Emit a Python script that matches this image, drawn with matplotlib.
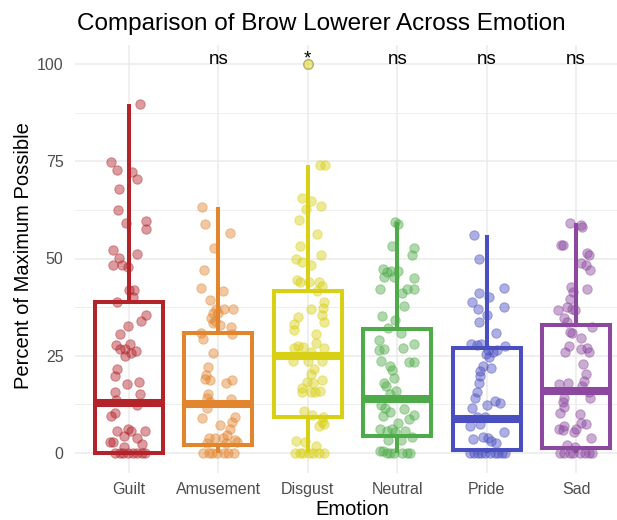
import matplotlib
matplotlib.use("Agg")
import matplotlib.pyplot as plt
from matplotlib.ticker import MultipleLocator

plt.rcParams['font.family'] = ['Liberation Sans', 'DejaVu Sans']

emotions = ["Guilt", "Amusement", "Disgust", "Neutral", "Pride", "Sad"]
colors = ["#B2232A", "#E2852F", "#D8D015", "#4FAB49", "#4A4FBF", "#8B489E"]

# Box statistics: lower whisker, Q1, median, Q3, upper whisker
whisker_lo = [0, 0, 0, 0, 0, 0]
q1 = [0, 2.0, 9.2, 4.4, 0.8, 1.4]
median = [12.9, 12.6, 24.9, 13.8, 8.7, 15.9]
q3 = [38.7, 30.8, 41.7, 32.0, 26.9, 32.9]
whisker_hi = [89.6, 63.3, 74.0, 59.5, 56.0, 59.2]
outliers = [[], [], [100], [], [], []]

# Significance labels vs. Guilt
sig_labels = ["", "ns", "*", "ns", "ns", "ns"]

# Individual observations (percent of maximum possible) with their jitter offsets
guilt = [89.6, 74.9, 72.7, 72.3, 70.4, 67.9, 62.5, 59.6, 59.2, 57.5, 52.2, 50.2, 51.1,
         48.3, 48.3, 47.9, 41.9, 41.9, 40.2, 38.7, 35.5, 33.9, 32.6, 30.5, 27.8, 28.0,
         26.7, 26.7, 25.6, 26.2, 25.0, 21.5, 19.8, 18.3, 17.8, 15.8, 15.1, 13.6, 12.3,
         10.4, 9.6, 5.7, 6.3, 5.7, 5.7, 4.4, 3.8, 2.9, 2.9, 2.3, 1.6,
         0, 0, 0, 0, 0, 0, 0, 0]
guilt_jit = [0.12, -0.20, -0.13, 0.03, 0.09, -0.11, -0.12, 0.19, -0.03, 0.19, -0.18, -0.11, 0.09,
             -0.18, -0.08, -0.01, 0.00, 0.06, 0.04, -0.13, 0.19, 0.13, -0.01, -0.10, -0.15, 0.01,
             -0.10, -0.05, 0.02, 0.08, -0.05, -0.14, -0.16, 0.11, -0.02, -0.16, 0.12, -0.15, 0.09,
             -0.16, -0.20, -0.13, -0.01, 0.02, 0.18, -0.06, 0.09, -0.21, -0.18, 0.15, -0.06,
             -0.16, -0.10, -0.07, -0.01, 0.04, 0.09, 0.15, 0.18]

amusement = [63.3, 58.8, 56.6, 52.8, 47.0, 42.5, 41.6, 39.3, 37.0, 36.9, 37.0, 35.9, 35.9,
             34.6, 34.0, 33.3, 32.9, 32.3, 30.8, 30.5, 29.3, 25.7, 22.2, 20.1, 19.0, 18.8,
             18.1, 18.8, 15.2, 14.1, 13.0, 13.8, 11.7, 8.9, 9.3, 8.0, 7.2, 6.3, 4.6, 3.8,
             3.8, 3.8, 3.3, 2.6, 2.6, 2.9, 0, 0, 0, 0, 0, 0, 0]
amusement_jit = [-0.18, -0.15, 0.13, -0.05, -0.16, -0.20, 0.05, -0.09, -0.03, 0.06, 0.16, -0.06, 0.00,
                 -0.08, -0.04, -0.06, 0.02, 0.14, -0.19, 0.15, -0.17, -0.06, -0.12, -0.14, -0.15, -0.09,
                 0.08, 0.15, -0.12, -0.13, -0.09, 0.14, -0.13, -0.18, 0.18, 0.15, 0.02, 0.13, 0.10, -0.11,
                 -0.04, 0.05, 0.19, -0.13, 0.09, 0.21, -0.17, -0.11, -0.07, -0.02, 0.06, 0.11, 0.17]

disgust = [100, 74.0, 74.0, 65.6, 64.7, 63.6, 62.7, 59.9, 56.3, 53.2, 50.8, 49.8, 49.2, 48.3,
           44.6, 44.0, 44.0, 43.9, 43.0, 41.7, 38.7, 37.4, 37.0, 35.5, 34.9, 33.8, 33.2, 31.6,
           30.6, 28.4, 27.6, 26.9, 27.3, 26.9, 26.0, 23.7, 23.7, 23.7, 21.5, 20.2, 18.8, 18.3,
           18.1, 16.6, 15.8, 15.6, 15.6, 16.0, 10.9, 9.8, 9.3, 7.9, 7.0, 7.4, 3.1, 2.9, 1.8,
           0, 0, 0, 0, 0, 0, 0]
disgust_jit = [0.00, 0.14, 0.19, -0.07, 0.03, 0.15, -0.02, -0.10, 0.10, -0.09, 0.15, -0.13, -0.07, 0.04,
               -0.12, -0.09, 0.01, 0.12, 0.16, 0.10, 0.18, 0.17, 0.03, 0.16, -0.11, 0.18, -0.16, -0.15,
               0.09, 0.09, -0.11, -0.16, -0.05, 0.18, 0.04, -0.17, 0.00, 0.16, 0.07, 0.04, 0.16, -0.01,
               0.06, -0.06, -0.07, 0.04, 0.08, 0.14, -0.04, 0.05, 0.17, 0.16, 0.12, 0.18, -0.13, -0.03, 0.09,
               -0.14, -0.09, -0.05, 0.01, 0.06, 0.12, 0.18]

neutral = [59.5, 58.8, 53.2, 52.8, 50.9, 47.2, 46.6, 46.8, 46.8, 45.2, 45.3, 45.1, 42.1, 42.1,
           42.1, 41.2, 37.8, 35.2, 34.2, 32.1, 30.9, 29.0, 28.0, 27.1, 26.5, 26.7, 23.7, 23.5,
           23.5, 22.4, 21.3, 19.2, 17.9, 17.3, 15.9, 15.1, 12.3, 11.5, 10.5, 9.6, 11.3, 9.8,
           8.7, 7.8, 6.1, 6.1, 5.7, 5.5, 5.7, 4.0, 3.3, 3.3, 0.5, 0.5, 0, 0, 0, 0, 0, 0]
neutral_jit = [-0.03, 0.01, -0.06, 0.19, 0.16, -0.16, -0.11, -0.07, 0.01, -0.15, -0.04, 0.19, -0.19, 0.11,
               0.19, 0.05, 0.07, -0.17, -0.03, -0.10, 0.04, -0.20, 0.19, 0.06, -0.20, -0.15, -0.18, 0.13,
               0.19, -0.08, -0.06, -0.04, -0.15, -0.13, -0.01, -0.08, -0.18, -0.14, -0.08, -0.16, 0.08, 0.19,
               0.13, 0.01, -0.19, -0.06, -0.11, -0.03, 0.09, 0.16, -0.10, 0.04, -0.19, -0.16, -0.12, -0.08,
               -0.04, 0.05, 0.11, 0.14]

pride = [56.0, 50.0, 42.3, 41.2, 40.2, 38.8, 37.5, 36.9, 35.5, 33.6, 30.9, 28.0, 27.8, 28.0,
         27.6, 26.5, 26.0, 26.5, 25.4, 24.8, 22.4, 21.8, 21.2, 19.9, 17.9, 15.8, 14.2, 13.4,
         12.8, 12.3, 11.6, 9.3, 9.3, 7.0, 7.5, 5.3, 3.6, 4.0, 3.8, 3.1, 2.6,
         0, 0, 0, 0, 0, 0, 0, 0, 0, 0]
pride_jit = [-0.14, -0.09, 0.19, -0.09, 0.03, -0.16, 0.19, -0.10, 0.00, -0.09, 0.10, -0.17, -0.11, -0.06,
             0.20, 0.02, 0.07, 0.12, -0.01, 0.03, -0.04, 0.05, -0.07, -0.08, -0.09, -0.11, -0.13, 0.09,
             0.15, 0.00, -0.16, -0.11, -0.02, -0.19, -0.07, 0.19, -0.15, -0.04, 0.02, 0.05, 0.10,
             -0.19, -0.14, -0.10, -0.06, -0.02, 0.04, 0.09, 0.13, 0.17, 0.20]

sad = [59.2, 58.6, 58.2, 53.5, 53.5, 51.5, 50.9, 48.8, 48.3, 47.0, 42.8, 42.1, 41.5, 39.5,
       37.6, 36.8, 36.9, 36.8, 34.6, 33.8, 32.5, 31.2, 30.9, 29.5, 27.5, 26.7, 27.1, 26.0,
       26.0, 22.9, 20.2, 18.6, 17.7, 18.1, 17.2, 15.8, 14.2, 14.2, 13.2, 11.9, 10.4, 10.0,
       7.6, 7.5, 6.9, 6.2, 5.9, 6.3, 5.5, 3.8, 2.1, 1.6, 0, 0, 0, 0, 0, 0, 0, 0]
sad_jit = [-0.07, 0.06, 0.07, -0.17, -0.15, 0.12, 0.14, 0.06, 0.11, 0.16, -0.06, 0.12, -0.03, -0.07,
           -0.10, -0.20, -0.04, -0.01, -0.13, -0.10, 0.18, -0.07, -0.05, 0.05, -0.08, 0.06, 0.12, 0.15,
           -0.12, 0.08, 0.11, 0.09, -0.19, -0.09, 0.07, 0.15, 0.16, -0.13, -0.15, -0.14, -0.18, 0.04,
           0.06, 0.11, -0.13, -0.19, -0.15, 0.00, -0.02, 0.17, -0.10, -0.01, -0.18, -0.14, -0.07, -0.03,
           0.04, 0.10, 0.14, 0.18]

values = [guilt, amusement, disgust, neutral, pride, sad]
jitters = [guilt_jit, amusement_jit, disgust_jit, neutral_jit, pride_jit, sad_jit]

W, H = 617, 520
fig = plt.figure(figsize=(W / 100, H / 100), dpi=100)
fig.patch.set_facecolor("white")

# Panel (ggplot-style discrete expansion of 0.6 on each side)
left_px, right_px = 75.4, 629.7
top_px, bottom_px = 44.5, 472.5
ax = fig.add_axes([left_px / W, 1 - bottom_px / H,
                   (right_px - left_px) / W, (bottom_px - top_px) / H])
ax.set_facecolor("white")
for s in ax.spines.values():
    s.set_visible(False)

positions = list(range(1, len(emotions) + 1))

box_lw = 2.9
for i, pos in enumerate(positions):
    c = colors[i]
    stats = [dict(med=median[i], q1=q1[i], q3=q3[i],
                  whislo=whisker_lo[i], whishi=whisker_hi[i],
                  fliers=outliers[i])]
    ax.bxp(stats, positions=[pos], widths=0.76, showcaps=False, showfliers=True,
           patch_artist=False, manage_ticks=False,
           boxprops=dict(color=c, linewidth=box_lw, solid_joinstyle="miter"),
           whiskerprops=dict(color=c, linewidth=box_lw, solid_capstyle="butt"),
           medianprops=dict(color=c, linewidth=5.8, solid_capstyle="butt"),
           flierprops=dict(marker="o", markersize=6.8, markerfacecolor="none",
                           markeredgecolor="#9A9A9A", markeredgewidth=1.0),
           zorder=2)
    xs = [pos + j for j in jitters[i]]
    ax.scatter(xs, values[i], s=46, color=c, alpha=0.45, edgecolors=c,
               linewidths=0.7, zorder=3)

for i, pos in enumerate(positions):
    if sig_labels[i]:
        ax.text(pos, 100, sig_labels[i], ha="center", va="baseline",
                fontsize=13.5, color="black", zorder=4)

ax.set_xlim(0.4, 6.6)
ax.set_ylim(-5, 105)
ax.set_xticks(positions)
ax.set_xticklabels(emotions)
ax.yaxis.set_major_locator(MultipleLocator(25))
ax.yaxis.set_minor_locator(MultipleLocator(12.5))
ax.tick_params(axis="both", which="both", length=0, colors="#4D4D4D", labelsize=11.5)
ax.tick_params(axis="y", pad=8.5)
ax.tick_params(axis="x", pad=6.5)
ax.grid(True, which="major", color="#EBEBEB", linewidth=1.1)
ax.grid(True, which="minor", axis="y", color="#EBEBEB", linewidth=0.6)
ax.set_axisbelow(True)

fig.text(77 / W, 1 - 30 / H, "Comparison of Brow Lowerer Across Emotion",
         ha="left", va="baseline", fontsize=17.5, color="black")
fig.text(352 / W, 1 - 515 / H, "Emotion", ha="center", va="baseline",
         fontsize=14.5, color="black")
fig.text(24 / W, 1 - 256 / H, "Percent of Maximum Possible", ha="center", va="center",
         rotation=90, fontsize=14.5, color="black")

fig.savefig("out.png", dpi=100)
